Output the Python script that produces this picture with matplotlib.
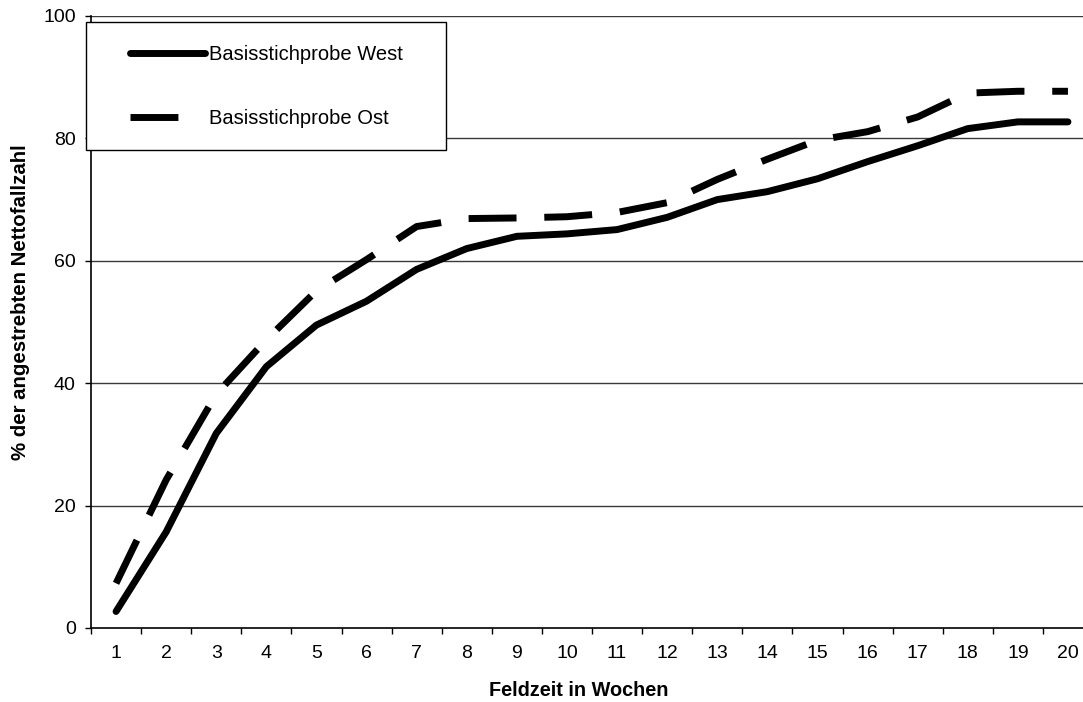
import matplotlib
matplotlib.use("Agg")
import matplotlib.pyplot as plt
from matplotlib.patches import Rectangle

plt.rcParams['font.family'] = ['Liberation Sans', 'DejaVu Sans']

# weeks of field time
weeks = list(range(1, 21))
# % of targeted net cases
west = [2.7, 15.7, 31.8, 42.7, 49.5, 53.4, 58.6, 62.0, 64.0, 64.4,
        65.1, 67.1, 70.0, 71.3, 73.4, 76.2, 78.8, 81.6, 82.7, 82.7]
ost = [7.3, 24.2, 38.2, 47.1, 55.1, 60.2, 65.6, 66.9, 67.0, 67.2,
       67.9, 69.5, 73.3, 76.6, 79.7, 81.1, 83.5, 87.4, 87.7, 87.7]
labels = ['Basisstichprobe West', 'Basisstichprobe Ost']
y_ticks = [0, 20, 40, 60, 80, 100]

fig = plt.figure(figsize=(10.83, 7.02), dpi=100)
W, H = 1083, 702
# axes right edge runs past the figure, like the original crop
ax = fig.add_axes([91 / W, (H - 628) / H, 1002 / W, 612 / H])

l1, = ax.plot(weeks, west, color='black', lw=5, solid_capstyle='round',
              solid_joinstyle='miter', label=labels[0])
l2, = ax.plot(weeks, ost, color='black', lw=5, dashes=(6.9, 4),
              dash_capstyle='butt', label=labels[1])

ax.set_xlim(0.5, 20.5)
ax.set_ylim(0, 100)
ax.set_yticks(y_ticks)
ax.set_xticks(weeks)
ax.set_xticks([w + 0.5 for w in range(0, 20)], minor=True)
ax.tick_params(axis='x', which='major', length=0, pad=12, labelsize=14)
ax.tick_params(axis='x', which='minor', length=4, width=1, direction='out')
ax.tick_params(axis='y', length=4, width=1, direction='out', pad=7, labelsize=14)

for y in y_ticks[1:]:
    ax.axhline(y, color='#3a3a3a', lw=1, zorder=0.5)

for s in ['top', 'right']:
    ax.spines[s].set_visible(False)
for s in ['left', 'bottom']:
    ax.spines[s].set_linewidth(1.2)

fig.text(579 / W, 1 - 690 / H, 'Feldzeit in Wochen', ha='center', va='center',
         fontsize=14.3, fontweight='bold')
fig.text(21 / W, 1 - 302 / H, '% der angestrebten Nettofallzahl', ha='center',
         va='center', rotation=90, fontsize=14.7, fontweight='bold')

# legend frame
fig.add_artist(Rectangle((86 / W, 1 - 150 / H), 360 / W, 128 / H,
                         transform=fig.transFigure, facecolor='white',
                         edgecolor='black', lw=1, zorder=4))
leg = fig.legend(handles=[l1, l2], loc='upper left',
                 bbox_to_anchor=(130 / W, 1 - 45 / H), frameon=False,
                 fontsize=14.5, handlelength=3.7, handletextpad=0.2,
                 labelspacing=2.25, borderpad=0, borderaxespad=0)
leg.set_zorder(5)

fig.savefig('out.png', dpi=100)
